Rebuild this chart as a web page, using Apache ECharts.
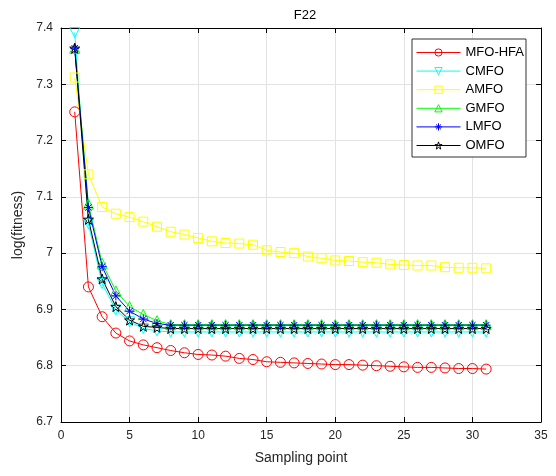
<!DOCTYPE html>
<html>
<head>
<meta charset="utf-8">
<script src="https://cdn.jsdelivr.net/npm/echarts@6/dist/echarts.min.js"></script>
<style>
html, body { margin: 0; padding: 0; background: #fff; }
#main { width: 556px; height: 476px; }
</style>
</head>
<body>
<div id="main"></div>
<script>
var samplePoints = [1, 2, 3, 4, 5, 6, 7, 8, 9, 10, 11, 12, 13, 14, 15, 16, 17, 18, 19, 20, 21, 22, 23, 24, 25, 26, 27, 28, 29, 30, 31];

var mfoHfa = [7.251, 6.940, 6.887, 6.858, 6.844, 6.837, 6.832, 6.827, 6.823, 6.820, 6.819, 6.817, 6.813, 6.811, 6.807, 6.806, 6.805, 6.804, 6.803, 6.802, 6.802, 6.801, 6.800, 6.799, 6.798, 6.797, 6.797, 6.796, 6.795, 6.795, 6.794];
var cmfo = [7.392, 7.052, 6.946, 6.899, 6.878, 6.866, 6.862, 6.860, 6.860, 6.860, 6.860, 6.860, 6.860, 6.860, 6.860, 6.860, 6.860, 6.860, 6.860, 6.860, 6.860, 6.860, 6.860, 6.860, 6.860, 6.860, 6.860, 6.860, 6.860, 6.860, 6.860];
var amfo = [7.312, 7.140, 7.082, 7.070, 7.064, 7.056, 7.047, 7.038, 7.033, 7.027, 7.021, 7.018, 7.017, 7.015, 7.005, 7.002, 7.000, 6.994, 6.991, 6.987, 6.986, 6.984, 6.983, 6.980, 6.979, 6.978, 6.978, 6.975, 6.974, 6.974, 6.973];
var gmfo = [7.364, 7.087, 6.982, 6.933, 6.905, 6.891, 6.880, 6.873, 6.873, 6.873, 6.873, 6.873, 6.873, 6.873, 6.873, 6.873, 6.873, 6.873, 6.873, 6.873, 6.873, 6.873, 6.873, 6.873, 6.873, 6.873, 6.873, 6.873, 6.873, 6.873, 6.873];
var lmfo = [7.364, 7.081, 6.976, 6.924, 6.897, 6.883, 6.875, 6.872, 6.872, 6.872, 6.872, 6.872, 6.872, 6.872, 6.872, 6.872, 6.872, 6.872, 6.872, 6.872, 6.872, 6.872, 6.872, 6.872, 6.872, 6.872, 6.872, 6.872, 6.872, 6.872, 6.872];
var omfo = [7.364, 7.060, 6.954, 6.905, 6.881, 6.870, 6.868, 6.866, 6.866, 6.866, 6.866, 6.866, 6.866, 6.866, 6.866, 6.866, 6.866, 6.866, 6.866, 6.866, 6.866, 6.866, 6.866, 6.866, 6.866, 6.866, 6.866, 6.866, 6.866, 6.866, 6.866];

var seriesNames = ['MFO-HFA', 'CMFO', 'AMFO', 'GMFO', 'LMFO', 'OMFO'];
var seriesValues = [mfoHfa, cmfo, amfo, gmfo, lmfo, omfo];
var seriesColors = ['#ff0000', '#00ffff', '#ffff00', '#00ff00', '#0000ff', '#000000'];

var triDown = 'path://M-1,-0.9L1,-0.9L0,0.9Z';
var triUp = 'path://M-1,0.9L1,0.9L0,-0.9Z';
var asterisk = 'path://M0,-1L0,1M-1,0L1,0M-0.7,-0.7L0.7,0.7M-0.7,0.7L0.7,-0.7';
var star = 'path://M0,-1L0.225,-0.309L0.951,-0.309L0.363,0.118L0.588,0.809L0,0.382L-0.588,0.809L-0.363,0.118L-0.951,-0.309L-0.225,-0.309Z';
var seriesSymbols = ['circle', triDown, 'rect', triUp, asterisk, star];
var symbolSizes = [10, 10, 9, 10, 9, 10];

var myChart = echarts.init(document.getElementById('main'));

var font = 'Liberation Sans, Arial, sans-serif';

var series = [];
for (var i = 0; i < seriesNames.length; i++) {
    var pts = [];
    for (var j = 0; j < samplePoints.length; j++) {
        pts.push([samplePoints[j], seriesValues[i][j]]);
    }
    series.push({
        name: seriesNames[i],
        type: 'line',
        data: pts,
        symbol: seriesSymbols[i],
        symbolSize: symbolSizes[i],
        showAllSymbol: true,
        animation: false,
        lineStyle: { color: seriesColors[i], width: 1 },
        itemStyle: { color: 'rgba(0,0,0,0)', borderColor: seriesColors[i], borderWidth: 1 }
    });
}

var option = {
    backgroundColor: '#fff',
    animation: false,
    title: {
        text: 'F22',
        left: 300,
        top: 4,
        textAlign: 'center',
        textStyle: { fontFamily: font, fontSize: 13, fontWeight: 'normal', color: '#000' }
    },
    legend: {
        orient: 'vertical',
        left: 412,
        top: 39,
        padding: [7, 2, 5, 4],
        itemGap: 5.6,
        itemWidth: 44,
        itemHeight: 9,
        borderColor: '#333',
        borderWidth: 1,
        borderRadius: 0,
        backgroundColor: '#fff',
        lineStyle: { width: 1 },
        itemStyle: { color: 'rgba(0,0,0,0)', borderWidth: 1 },
        textStyle: { fontFamily: font, fontSize: 13, color: '#000' },
        data: seriesNames
    },
    grid: { left: 61, right: 15, top: 28, bottom: 54, containLabel: false },
    xAxis: [{
        type: 'value',
        min: 0,
        max: 35,
        interval: 5,
        name: 'Sampling point',
        nameLocation: 'middle',
        nameGap: 29,
        nameTextStyle: { fontFamily: font, fontSize: 14, color: '#262626' },
        axisLine: { lineStyle: { color: '#000' } },
        axisTick: { inside: true, length: 5, lineStyle: { color: '#000' } },
        axisLabel: { fontFamily: font, fontSize: 12, color: '#262626', margin: 8 },
        splitLine: { show: true, lineStyle: { color: '#e3e3e3' } }
    }, {
        type: 'value',
        position: 'top',
        min: 0,
        max: 35,
        interval: 5,
        axisLine: { onZero: false, lineStyle: { color: '#000' } },
        axisTick: { inside: true, length: 5, lineStyle: { color: '#000' } },
        axisLabel: { show: false },
        splitLine: { show: false }
    }],
    yAxis: [{
        type: 'value',
        min: 6.7,
        max: 7.4,
        interval: 0.1,
        name: 'log(fitness)',
        nameLocation: 'middle',
        nameGap: 32,
        nameTextStyle: { fontFamily: font, fontSize: 14, color: '#262626' },
        axisLine: { show: true, lineStyle: { color: '#000' } },
        axisTick: { show: true, inside: true, length: 5, lineStyle: { color: '#000' } },
        axisLabel: {
            fontFamily: font, fontSize: 12, color: '#262626', margin: 8,
            formatter: function (v) { return String(+v.toFixed(1)); }
        },
        splitLine: { show: true, lineStyle: { color: '#e3e3e3' } }
    }, {
        type: 'value',
        position: 'right',
        min: 6.7,
        max: 7.4,
        interval: 0.1,
        axisLine: { show: true, onZero: false, lineStyle: { color: '#000' } },
        axisTick: { show: true, inside: true, length: 5, lineStyle: { color: '#000' } },
        axisLabel: { show: false },
        splitLine: { show: false }
    }],
    series: series
};
myChart.setOption(option);
</script>
</body>
</html>
